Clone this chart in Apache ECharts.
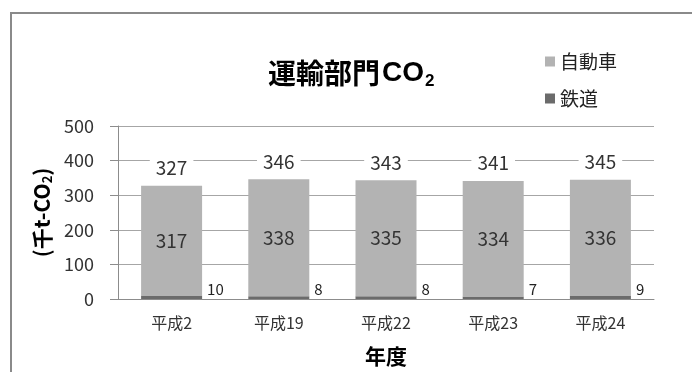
<!DOCTYPE html>
<html>
<head>
<meta charset="utf-8">
<script src="https://cdn.jsdelivr.net/npm/echarts@6/dist/echarts.min.js"></script>
<style>
  html, body { margin: 0; padding: 0; background: #fff; }
  #main { width: 692px; height: 372px; }
</style>
</head>
<body>
<div id="main"></div>
<script>
// 運輸部門CO2 (千t-CO2)
var years = ['平成2', '平成19', '平成22', '平成23', '平成24'];
var jidosha = [317, 338, 335, 334, 336];
var tetsudo = [10, 8, 8, 7, 9];
var totals = [327, 346, 343, 341, 345];
var yTicks = [0, 100, 200, 300, 400, 500];

var font = '"Noto Sans CJK JP", "Noto Sans", sans-serif';
var latin = '"Liberation Sans", Arial, sans-serif';
var myChart = echarts.init(document.getElementById('main'));

var option = {
  animation: false,
  textStyle: { fontFamily: font },
  title: {
    text: '{a|運輸部門}{c|CO}{b|2}',
    left: 263,
    top: 50,
    textStyle: {
      rich: {
        a: { fontSize: 28, fontWeight: 'bold', color: '#000', fontFamily: font, lineHeight: 36 },
        c: { fontSize: 28, fontWeight: 'bold', color: '#000', fontFamily: latin, lineHeight: 36, padding: [0, 0, 0, 2] },
        b: { fontSize: 17, color: '#000', fontFamily: latin, padding: [16, 0, 0, 1] }
      }
    }
  },
  legend: {
    data: ['自動車', '鉄道'],
    orient: 'vertical',
    left: 540,
    top: 47,
    itemWidth: 10,
    itemHeight: 10,
    itemGap: 18,
    icon: 'rect',
    textStyle: { fontSize: 19, color: '#222', fontFamily: font }
  },
  grid: { left: 118, right: 38, top: 126, bottom: 73 },
  xAxis: {
    type: 'category',
    data: years,
    name: '年度',
    nameLocation: 'middle',
    nameGap: 47,
    nameTextStyle: { fontSize: 21, fontWeight: 'bold', color: '#000' },
    axisLine: { lineStyle: { color: '#8c8c8c' } },
    axisTick: { length: 6, lineStyle: { color: '#8c8c8c' } },
    axisLabel: { fontSize: 16, color: '#333', margin: 16 }
  },
  yAxis: {
    type: 'value',
    min: yTicks[0],
    max: yTicks[yTicks.length - 1],
    interval: 100,
    name: '{a|(千t-CO}{b|2}{a|)}',
    nameLocation: 'middle',
    nameRotate: 90,
    nameGap: 61,
    nameTextStyle: {
      rich: {
        a: { fontSize: 21, fontWeight: 'bold', color: '#000', fontFamily: font },
        b: { fontSize: 13, fontWeight: 'bold', color: '#000', fontFamily: font, padding: [10, 0, 0, 0] }
      }
    },
    axisLine: { show: true, lineStyle: { color: '#8c8c8c' } },
    axisTick: { show: true, length: 8, lineStyle: { color: '#8c8c8c' } },
    axisLabel: { fontSize: 18, color: '#333', margin: 24 },
    splitLine: { lineStyle: { color: '#a6a6a6' } }
  },
  series: [
    {
      name: '鉄道',
      type: 'bar',
      stack: 'total',
      barWidth: 61,
      data: tetsudo,
      itemStyle: { color: '#6b6b6b' },
      label: {
        show: true,
        position: 'right',
        distance: 5,
        offset: [0, -8],
        fontSize: 15,
        color: '#222'
      }
    },
    {
      name: '自動車',
      type: 'bar',
      stack: 'total',
      barWidth: 61,
      data: jidosha,
      itemStyle: { color: '#b3b3b3' },
      label: {
        show: true,
        position: 'inside',
        fontSize: 19,
        color: '#333'
      }
    },
    {
      name: '合計',
      type: 'line',
      data: totals,
      symbol: 'circle',
      symbolSize: 1,
      showSymbol: true,
      itemStyle: { color: 'rgba(0,0,0,0)' },
      lineStyle: { width: 0, color: 'rgba(0,0,0,0)' },
      silent: true,
      z: 5,
      label: {
        show: true,
        position: 'top',
        distance: 8,
        fontSize: 19,
        color: '#333',
        backgroundColor: '#fff',
        padding: [0, 6]
      }
    }
  ],
  graphic: [
    {
      type: 'polyline',
      shape: { points: [[11, 372], [11, 13], [692, 13]] },
      style: { stroke: '#8a8a8a', lineWidth: 2, fill: null },
      silent: true
    }
  ]
};

myChart.setOption(option);
</script>
</body>
</html>
